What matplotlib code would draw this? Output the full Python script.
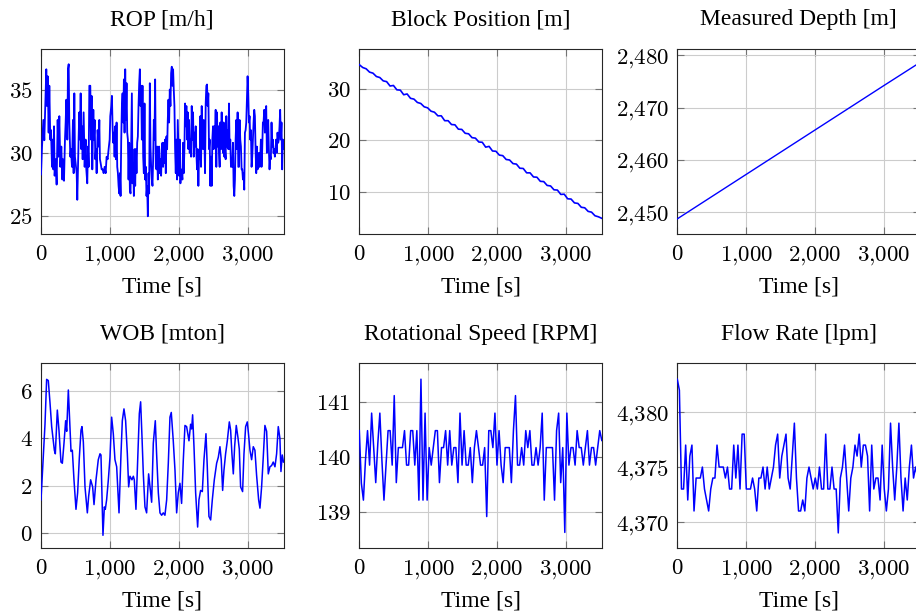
import numpy as np
import matplotlib
matplotlib.use("Agg")
import matplotlib.pyplot as plt
from matplotlib.ticker import FuncFormatter

plt.rcParams['font.family'] = ['Liberation Serif', 'DejaVu Serif']
plt.rcParams['mathtext.fontset'] = 'cm'

#ROP [m/h], irregular readings first, then ~10 s steps
ROP_TIME_EARLY = [0, 15, 34, 48, 68, 77, 87, 97, 111, 121, 135, 145, 160, 169, 179, 189, 198, 213, 227, 242,
                  252, 266, 281, 295, 310, 319, 334, 348, 358, 368, 382, 392, 402, 411, 426, 435, 450, 464, 474, 484,
                  493, 508, 518, 527, 537, 547, 556, 566, 576, 585, 595, 605, 619, 634, 648, 658, 672, 682, 692, 702,
                  716, 726, 735, 745, 760, 769, 779, 789, 798, 808, 822, 837, 847, 856, 866, 881, 895, 910, 924, 939,
                  953, 968, 982, 997, 1006, 1021]
ROP_VALUE = [28.3, 30.5, 32.6, 31.0, 35.0, 36.6, 33.7, 36.05, 31.6, 35.3, 31.05, 31.8, 28.9, 31.05, 28.7, 32.1, 28.2, 29.5, 27.5, 32.6,
             29.7, 32.9, 28.9, 30.5, 27.9, 29.5, 27.8, 31.05, 32.4, 34.2, 31.05, 36.6, 37.0, 32.4, 29.7, 30.3, 28.9, 32.6, 28.4, 34.7,
             29.7, 28.9, 28.4, 26.3, 28.9, 31.3, 33.2, 31.05, 34.7, 30.3, 32.1, 29.5, 33.2, 28.9, 31.05, 28.7, 27.6, 30.5, 28.9, 35.3,
             35.3, 31.05, 34.5, 28.7, 33.4, 31.05, 32.6, 29.5, 30.3, 28.4, 31.8, 30.5, 32.6, 29.5, 29.2, 28.7, 28.7, 28.4, 28.9, 28.4,
             29.7, 29.5, 30.3, 31.05, 32.9, 33.7,
             34.5, 32.1, 30.8, 31.6, 29.7, 32.1, 29.5, 32.4, 28.9, 28.4, 27.4, 26.8, 28.4, 26.6, 31.05, 33.7, 34.7, 32.4, 35.8, 31.6,
             36.6, 32.6, 35.5, 31.6, 31.05, 27.9, 30.8, 27.1, 26.8, 31.05, 34.7, 27.6, 29.2, 26.6, 30.3, 27.4, 30.3, 28.4, 30.8, 31.3,
             33.7, 35.5, 36.6, 33.7, 35.3, 31.05, 35.3, 29.7, 28.4, 33.9, 27.9, 28.9, 26.6, 27.4, 25.0, 28.4, 26.8, 35.5, 30.5, 28.9,
             27.9, 27.4, 29.5, 32.6, 31.05, 35.8, 28.9, 28.7, 30.5, 27.9, 28.7, 30.5, 28.4, 29.5, 28.2, 30.3, 30.8, 28.9, 30.8, 29.2,
             31.05, 28.4, 31.3, 30.3, 32.6, 34.2, 32.4, 35.0, 33.7, 36.3, 36.8, 35.3, 36.6, 35.0, 33.7, 30.3, 28.4, 31.05, 27.9, 32.6,
             30.5, 28.2, 31.05, 27.6, 28.7, 28.4, 27.9, 30.8, 28.4, 30.3, 33.9, 32.1, 33.7, 31.05, 33.2, 30.3, 32.6, 30.0, 31.05, 29.7,
             33.7, 31.05, 33.2, 29.7, 31.6, 30.5, 32.1, 30.0, 28.7, 30.3, 27.4, 29.7, 29.5, 32.9, 28.9, 33.7, 30.8, 30.3, 32.6, 31.3,
             28.4, 33.9, 35.3, 35.4, 33.7, 34.7, 30.3, 31.05, 27.4, 29.7, 27.4, 31.05, 32.1, 30.3, 32.1, 31.05, 33.4, 28.9, 33.2, 30.5,
             32.1, 30.0, 28.9, 32.4, 30.3, 33.2, 31.05, 30.0, 32.4, 29.7, 30.3, 29.5, 32.9, 30.5, 31.8, 30.3, 33.9, 30.3, 31.05, 28.9,
             29.5, 28.9, 30.8, 27.4, 26.6, 27.9, 31.05, 32.6, 30.3, 33.2, 28.9, 28.9, 32.6, 31.05, 30.5, 28.7, 28.7, 27.9, 28.4, 27.1,
             31.6, 31.8, 32.4, 34.2, 36.05, 34.7, 32.4, 32.9, 31.05, 31.8, 28.9, 29.7, 31.05, 32.4, 33.4, 32.9, 30.3, 28.4, 30.5, 28.7,
             28.9, 30.0, 28.9, 29.5, 31.05, 28.9, 30.3, 32.4, 32.4, 33.4, 31.6, 33.2, 33.7, 30.0, 31.05, 32.6, 30.3, 28.7, 29.7, 29.5,
             32.4, 30.5, 31.05, 30.0, 30.3, 29.7, 30.3, 31.05, 30.0, 31.6, 30.8, 31.05, 32.1, 33.4, 31.05, 32.4, 28.7, 31.05, 30.3]

#block position [m], every ~50 s
BLOCK_POS = [34.75, 34.20, 33.95, 33.30, 33.10, 32.45, 32.25, 31.60, 31.45, 30.60, 30.70, 29.85, 29.80, 28.90, 29.05, 28.20,
             28.05, 27.40, 27.20, 26.55, 26.35, 25.70, 25.50, 24.80, 24.80, 23.85, 23.85, 23.10, 23.05, 22.20, 22.15, 21.40,
             21.30, 20.55, 20.45, 19.70, 19.65, 18.70, 18.85, 17.95, 17.90, 17.15, 17.05, 16.30, 16.20, 15.50, 15.40, 14.60,
             14.55, 13.70, 13.70, 12.90, 12.85, 12.05, 12.00, 11.25, 11.15, 10.40, 10.35, 9.50, 9.55, 8.65, 8.60, 7.85, 7.75,
             7.00, 6.90, 6.20, 6.05, 5.35, 5.15, 4.85]

DEPTH_TIME = [0, 1000, 2000, 3000, 3522]
DEPTH = [2448.7, 2457.2, 2465.7, 2474.2, 2478.6]

WOB_TIME = [0, 58, 82, 106, 131, 155, 179, 194, 208, 237, 261, 290, 310, 334, 358, 373, 397, 421, 436, 455,
            479, 508, 532, 557, 581, 595, 615, 639, 673, 692, 721, 750, 770, 799, 832, 857, 871, 891, 900, 920,
            934, 953, 978, 1002, 1026, 1050, 1074, 1099, 1133, 1162, 1181, 1205, 1229, 1254, 1273, 1292, 1321, 1341, 1355, 1379,
            1404, 1428, 1447, 1467, 1486, 1510, 1534, 1563, 1583, 1607, 1631, 1660, 1679, 1704, 1728, 1752, 1776, 1800, 1825, 1849,
            1873, 1892, 1921, 1946, 1970, 1994, 2018, 2042, 2067, 2091, 2115, 2149, 2173, 2188, 2202, 2222, 2246, 2275, 2294, 2318,
            2343, 2367, 2396, 2415, 2439, 2464, 2488, 2517, 2551, 2575, 2599, 2618, 2638, 2657, 2681, 2706, 2735, 2754, 2773, 2793,
            2812, 2836, 2860, 2880, 2899, 2928, 2948, 2972, 2996, 3015, 3035, 3059, 3083, 3107, 3131, 3161, 3180, 3204, 3228, 3252,
            3277, 3301, 3325, 3349, 3373, 3398, 3422, 3446, 3470, 3485, 3504, 3522]
WOB = [1.4, 4.6, 6.5, 6.45, 5.5, 4.5, 3.9, 3.5, 3.35, 5.2, 4.35, 3.0, 2.95, 3.8, 4.75, 4.3, 6.05, 4.5, 3.45, 3.5,
       2.25, 1.0, 1.7, 3.2, 4.35, 4.5, 3.85, 1.95, 0.85, 1.55, 2.25, 1.95, 1.2, 2.25, 3.1, 3.35, 3.3, 1.0, -0.1, 1.1,
       1.0, 1.4, 2.25, 3.2, 4.9, 4.2, 3.1, 2.8, 0.85, 3.35, 4.75, 5.25, 4.75, 3.35, 1.95, 2.4, 2.25, 2.4, 2.25, 1.0,
       3.1, 5.05, 5.55, 4.05, 2.5, 1.1, 0.85, 2.5, 1.95, 1.3, 3.8, 4.75, 3.35, 1.7, 0.85, 0.75, 0.85, 0.75, 1.4, 2.95,
       4.9, 5.1, 3.9, 2.65, 0.85, 1.7, 2.1, 1.25, 3.1, 4.55, 4.5, 3.9, 4.6, 4.4, 5.0, 3.65, 1.7, 0.25, 1.4, 1.8,
       1.75, 3.1, 4.2, 2.8, 0.7, 0.55, 1.4, 2.25, 2.95, 3.2, 3.65, 3.1, 1.8, 2.65, 3.35, 3.9, 4.7, 4.35, 3.35, 2.5,
       3.65, 4.55, 4.05, 3.55, 1.95, 1.75, 3.35, 4.5, 4.7, 4.15, 3.5, 3.1, 3.65, 3.5, 2.45, 1.4, 1.05, 1.95, 3.2, 4.55,
       4.3, 2.5, 2.8, 2.85, 3.0, 2.8, 3.35, 4.5, 4.0, 2.6, 3.3, 3.0]

#rotational speed [RPM], ~30 s steps
RPM = [140.48, 139.52, 139.21, 139.94, 140.48, 139.85, 140.80, 140.17, 139.53, 140.24, 140.80, 139.94, 139.21, 139.85, 140.48,
       140.48, 139.85, 141.12, 139.53, 140.17, 140.17, 140.17, 140.48, 139.85, 139.85, 140.48, 140.48, 139.85, 140.48, 139.21,
       141.42, 139.21, 140.80, 139.21, 140.17, 139.85, 140.17, 140.48, 140.48, 139.53, 140.17, 140.17, 140.48, 139.85, 140.48,
       139.85, 140.17, 140.17, 139.53, 140.80, 139.85, 140.48, 139.85, 139.85, 140.17, 139.53, 140.17, 140.48, 140.17, 139.85,
       139.85, 140.17, 138.91, 140.48, 140.48, 140.17, 140.80, 139.85, 140.48, 139.85, 139.53, 140.17, 140.17, 140.17, 139.53,
       140.48, 141.12, 139.85, 139.85, 140.17, 139.85, 140.48, 140.17, 140.48, 139.85, 139.85, 140.17, 139.85, 140.17, 140.80,
       139.21, 140.17, 140.17, 140.17, 140.17, 139.21, 140.48, 140.80, 139.53, 140.17, 138.62, 140.80, 139.85, 140.17, 140.17,
       139.85, 140.48, 140.17, 140.17, 139.85, 140.17, 140.48, 139.85, 140.17, 140.17, 139.85, 140.17, 140.48, 140.30]

#flow rate [lpm], ~30 s steps
FLOW = [4383, 4382, 4373, 4373, 4377, 4372, 4376, 4377, 4371, 4374, 4374, 4374, 4375, 4373, 4372, 4371, 4373, 4374, 4374, 4377,
        4375, 4375, 4375, 4374, 4375, 4373, 4373, 4377, 4374, 4377, 4373, 4378, 4378, 4373, 4373, 4373, 4374, 4373, 4371, 4374,
        4374, 4375, 4373, 4375, 4373, 4374, 4375, 4377, 4378, 4374, 4376, 4377, 4378, 4374, 4373, 4376, 4379, 4374, 4371, 4371,
        4372, 4371, 4374, 4375, 4374, 4373, 4374, 4373, 4375, 4373, 4373, 4378, 4373, 4373, 4375, 4373, 4373, 4369, 4374, 4375,
        4377, 4374, 4371, 4374, 4375, 4377, 4376, 4378, 4375, 4377, 4377, 4376, 4371, 4377, 4373, 4374, 4374, 4372, 4377, 4373,
        4371, 4373, 4379, 4375, 4372, 4375, 4379, 4374, 4371, 4374, 4372, 4375, 4377, 4374, 4375, 4374, 4375]

T_END = 3522
X_TICKS = [0, 1000, 2000, 3000]

TITLES = ['ROP [m/h]', 'Block Position [m]', 'Measured Depth [m]',
          'WOB [mton]', 'Rotational Speed [RPM]', 'Flow Rate [lpm]']
Y_LIMS = [(23.6, 38.2), (1.8, 37.8), (2445.8, 2481.2), (-0.65, 7.18), (138.33, 141.71), (4367.6, 4384.45)]
Y_TICKS = [[25, 30, 35], [10, 20, 30], [2450, 2460, 2470, 2480], [0, 2, 4, 6], [139, 140, 141], [4370, 4375, 4380]]


def tex_num(v, pos):
    s = f"{v:,.0f}".replace(",", "{,}")
    return f"${s}$"


def main():
    rop_time = np.concatenate([ROP_TIME_EARLY,
                               np.linspace(1030, T_END, len(ROP_VALUE) - len(ROP_TIME_EARLY))])
    series = [
        (rop_time, ROP_VALUE),
        (np.linspace(0, T_END, len(BLOCK_POS)), BLOCK_POS),
        (DEPTH_TIME, DEPTH),
        (WOB_TIME, WOB),
        (np.linspace(0, T_END, len(RPM)), RPM),
        (np.linspace(0, T_END, len(FLOW)), FLOW),
    ]
    widths = [1.3, 1.2, 1.0, 1.1, 1.1, 1.1]

    fig = plt.figure(figsize=(9.16, 6.15), dpi=100)
    lefts = [41 / 916, 359.3 / 916, 677.3 / 916]
    bottoms = [1 - 234 / 615, 1 - 548.3 / 615]
    w = 242.5 / 916
    h = 185 / 615

    for i in range(6):
        ax = fig.add_axes([lefts[i % 3], bottoms[i // 3], w, h])
        x, y = series[i]
        ax.plot(x, y, color=(0, 0, 1), lw=widths[i], zorder=3)

        ax.set_xlim(0, T_END)
        ax.set_ylim(*Y_LIMS[i])
        ax.set_xticks(X_TICKS)
        ax.set_yticks(Y_TICKS[i])
        ax.xaxis.set_major_formatter(FuncFormatter(tex_num))
        ax.yaxis.set_major_formatter(FuncFormatter(tex_num))

        ax.grid(True, color='#cccccc', lw=0.8, zorder=0)
        ax.set_axisbelow(True)
        ax.tick_params(direction='in', length=5, width=0.8, color='0.45',
                       top=True, right=True, labelsize=16.5)
        ax.tick_params(axis='x', pad=7)
        ax.tick_params(axis='y', pad=6)
        for sp in ax.spines.values():
            sp.set_linewidth(0.8)
            sp.set_color('0.15')

        ax.set_title(TITLES[i], fontsize=17, pad=17)
        ax.set_xlabel('Time [s]', fontsize=17, labelpad=7)

    fig.savefig('out.png', dpi=100)


main()
